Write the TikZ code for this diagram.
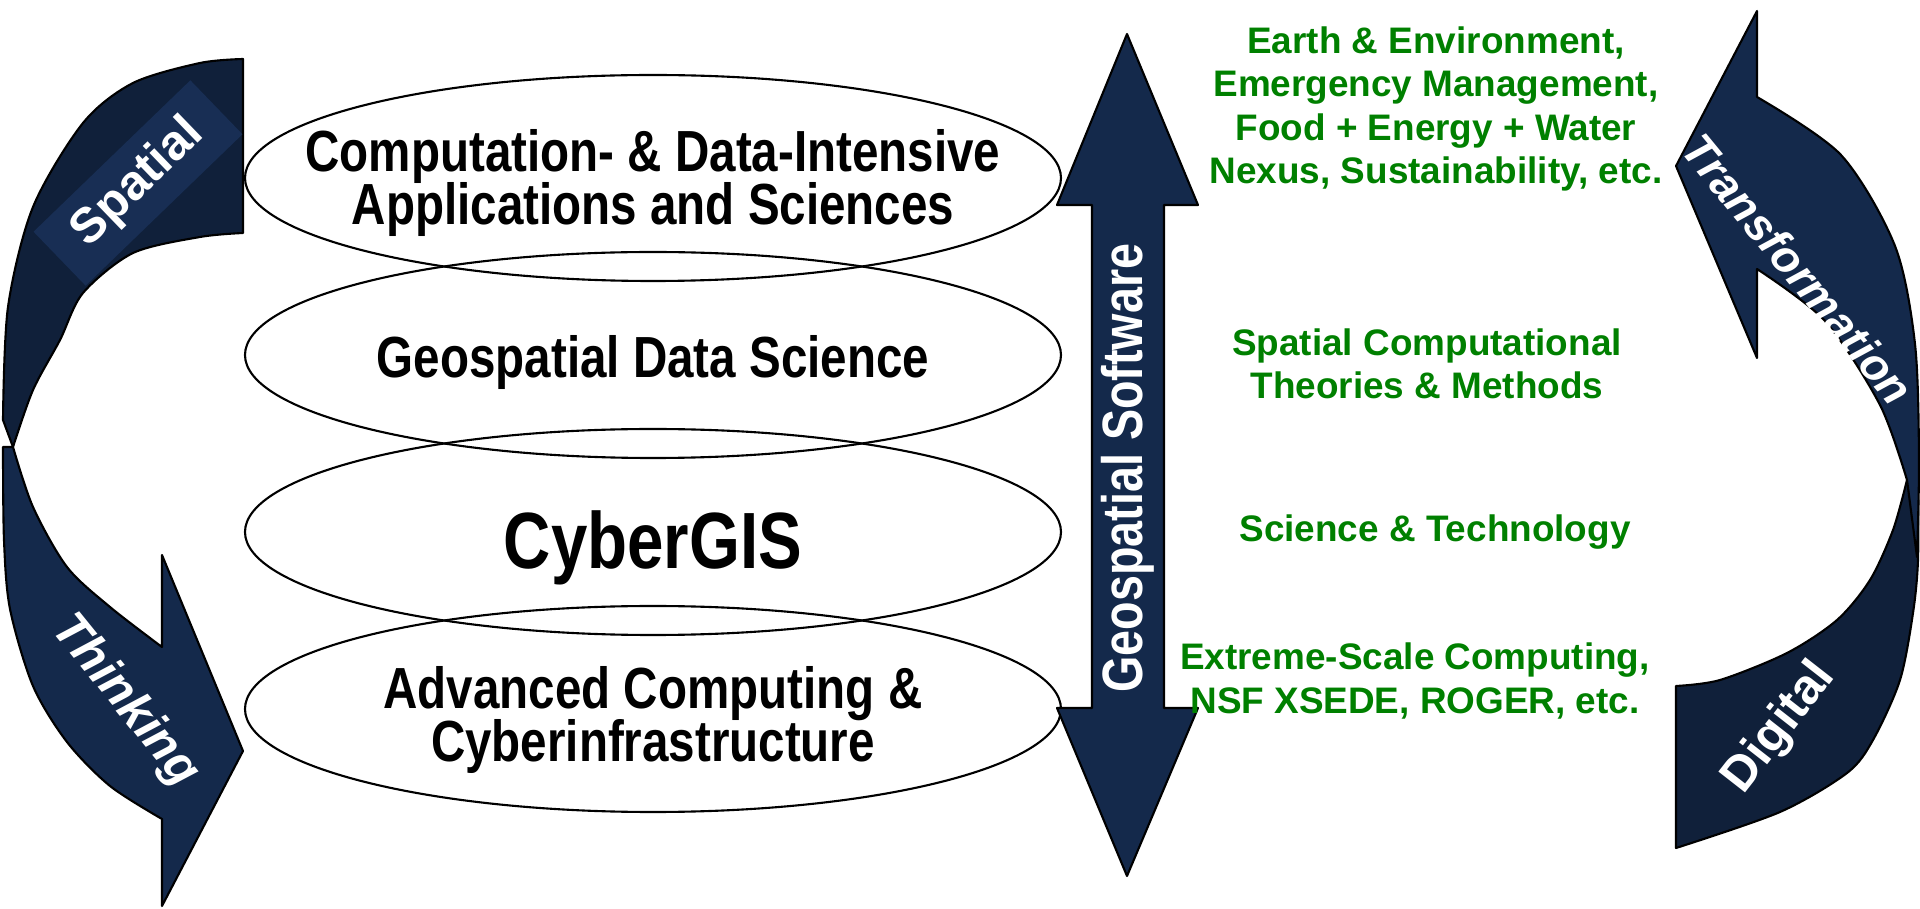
\documentclass[tikz,border=0pt]{standalone}
\usepackage{fontspec}
\setmainfont{Liberation Sans}
\newfontfamily\narrowfont[FakeStretch=0.82]{Liberation Sans}
\usetikzlibrary{calc}
\lineskiplimit=-\maxdimen

\definecolor{navy}{RGB}{20,41,75}
\definecolor{navyback}{RGB}{16,32,58}
\definecolor{navybox}{RGB}{24,46,84}
\definecolor{appgreen}{RGB}{0,128,0}

\tikzset{
  rim/.style={draw=black, line width=0.6pt},
  band/.style={draw=black, line width=0.6pt, line join=round},
  layer/.style={align=center, font=\narrowfont\bfseries\fontsize{16.5}{15}\selectfont},
  app/.style={text=appgreen, align=center, font=\bfseries\fontsize{10.5}{12.4}\selectfont},
  bandtext/.style={text=white, inner sep=1pt, font=\bfseries\fontsize{14}{16}\selectfont}
}

\begin{document}
\begin{tikzpicture}[x=0.1mm, y=-0.1mm]
  \useasboundingbox[fill=white] (0,0) rectangle (1920,909);

  % the four layers
  \coordinate (e1) at (653,178);
  \coordinate (e2) at ($(e1) + (0,177)$);
  \coordinate (e3) at ($(e2) + (0,177)$);
  \coordinate (e4) at ($(e3) + (0,177)$);
  \foreach \e in {e1,e2,e3,e4}
    \draw[rim] (\e) ellipse [x radius=408, y radius=103];
  \node[layer] (apps) at ($(e1) + (0,5)$) {Computation- \& Data-Intensive\\Applications and Sciences};
  \node[layer] (gds) at ($(e2) + (0,8)$) {Geospatial Data Science};
  \node[layer, font=\narrowfont\bfseries\fontsize{22.7}{24}\selectfont] (cgis) at ($(e3) + (0,16)$) {CyberGIS};
  \node[layer] (aci) at ($(e4) + (0,11)$) {Advanced Computing \&\\Cyberinfrastructure};

  % software arrow
  \filldraw[band, fill=navy] (1127,34) -- (1198,205) -- (1164,205) -- (1164,708) -- (1198,708)
    -- (1127,876) -- (1057,708) -- (1092,708) -- (1092,205) -- (1057,205) -- cycle;
  \node[rotate=90, text=white, font=\narrowfont\bfseries\fontsize{16.2}{18}\selectfont] (sw) at (1128,468) {Geospatial Software};

  \node[app] (domains) at (1436,109) {Earth \& Environment,\\Emergency Management,\\Food + Energy + Water\\Nexus, Sustainability, etc.};
  \node[app] (theory) at (1427,364) {Spatial Computational\\Theories \& Methods};
  \node[app] (scitech) at (1435,532) {Science \& Technology};
  \node[app] (hpc) at (1415,681) {Extreme-Scale Computing,\\NSF XSEDE, ROGER, etc.};

  % spatial thinking
  \filldraw[band, fill=navyback]
    plot[smooth] coordinates {(243,59) (200,63) (133,83) (83,123) (33,207) (8,307) (3,420)}
    -- (13,447)
    -- plot[smooth] coordinates {(13,447) (33,390) (60,340) (83,293) (133,253) (200,237) (243,233)}
    -- cycle;
  \node[bandtext, rotate=44, fill=navybox, minimum width=21.8mm, minimum height=7.5mm] (spatial) at (138,183) {Spatial};
  \filldraw[band, fill=navy]
    plot[smooth] coordinates {(13,447) (33,507) (67,567) (110,607) (162,647)}
    -- (162,555) -- (243,751) -- (162,906) -- (162,819)
    -- plot[smooth] coordinates {(162,819) (110,786) (67,742) (33,686) (10,609) (4,540) (3,447)}
    -- cycle;
  \node[bandtext, rotate=-51, font=\bfseries\itshape\fontsize{14}{16}\selectfont] (thinking) at (125,701) {Thinking};

  % digital transformation
  \filldraw[band, fill=navyback]
    plot[smooth] coordinates {(1907,480) (1893,530) (1870,580) (1837,620) (1787,653) (1720,680) (1676,686)}
    -- (1676,848)
    -- plot[smooth] coordinates {(1676,848) (1780,812) (1847,773) (1873,740) (1900,680) (1913,613) (1918,560) (1918,480)}
    -- cycle;
  \node[bandtext, rotate=52] (digital) at (1780,728) {Digital};
  \filldraw[band, fill=navy]
    (1676,166) -- (1757,11) -- (1757,97)
    -- plot[smooth] coordinates {(1757,97) (1841,155) (1895,246) (1915,344) (1919,458) (1917,557)}
    -- (1907,480)
    -- plot[smooth] coordinates {(1907,480) (1880,405) (1825,321) (1757,269)}
    -- (1757,358) -- cycle;
  \node[bandtext, rotate=-50.5, font=\bfseries\itshape\fontsize{13}{15}\selectfont] (transform) at (1798,269) {Transformation};
\end{tikzpicture}
\end{document}
